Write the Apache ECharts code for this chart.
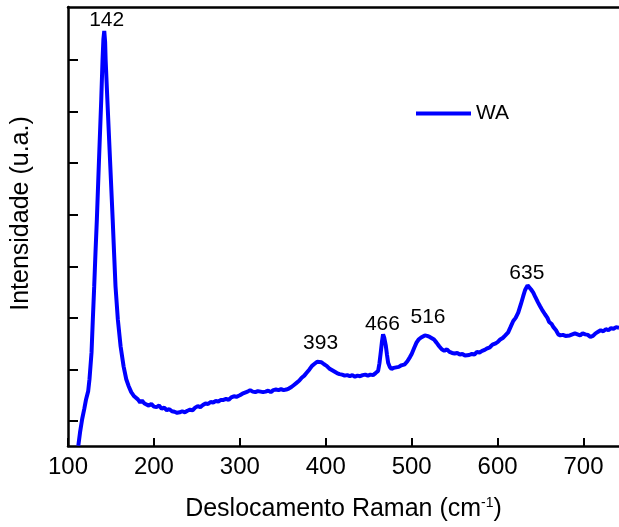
<!DOCTYPE html>
<html>
<head>
<meta charset="utf-8">
<script src="https://cdn.jsdelivr.net/npm/echarts@6/dist/echarts.min.js"></script>
<style>
html,body{margin:0;padding:0;background:#fff;}
#chart{width:619px;height:527px;}
</style>
</head>
<body>
<div id="chart"></div>
<script>
// Raman shift (cm-1)
var ramanShift = [
112,114,116.5,119,121,123.5,125,127.4,128.9,130.5,132,133.6,136.1,138.7,140.2,141.2,142.2,143.2,143.8,145.8,148.9,152,153.6,155.3,158,161.2,164.7,167.8,170.5,173.6,177,181.3,184,186,189,191,194,197,200,203,206,209,212,215,218,221,224,227,230,233,236,239,242,245,248,251,254,257,260,263,266,269,272,275,278,281,284,287,290,293,296,300,303,306,309,312,315,318,321,324,327,330,333,336,339,342,345,348,351,354,357,360,363,366,369,372,375,378,381,384,387,390,392.2,395,398,401,404,407,410,413,416,419,422,425,428,431,434,437,440,443,446,449,452,455,458,460.9,462.5,464,465.5,466.7,468,469.9,471.3,472.6,474.5,476.5,479,482,485,488,492,495,498,500,503,505.6,508,511,515.3,518,521,523.1,526,528.9,532,535,538,541,544,547,550,553,556,559,562,564,567,570,573,576,579,582,585,588,591,594,597,600,603,606,609,612.3,615,618.2,621,624,627,629.8,632,634.9,637,639,641.5,644,647,649.3,652,655.1,658,660,662.9,665,668,670.6,673,676,679,681,684,687,690,693,696,699,702,705,708,711,714,717,720,723,726,729,732,735,738,741.3
];
// Intensity (a.u.)
var intensityWA = [
52,78,104,124,142,158,181,233,297,361,427,491,607,723,800,840,856,835,800,723,607,491,427,361,297,245,206,181,168,156,148,142,136,140,134,133,130,133,128,127,130,124,126,121,123,119,118,116,117,119,117,120,122,121,126,129,127,131,134,133,137,136,139,138,141,141,143,141,146,148,147,150,153,155,157,160,157,156,158,157,156,157,159,156,160,161,160,162,160,161,163,166,170,174,178,184,188,194,200,207,211,215,218,214,210,207,202,199,196,193,191,190,188,189,187,189,186,188,187,189,190,188,190,189,193,197,212,233,255,268,262,246,228,213,205,201,203,204,205,208,210,216,224,230,242,252,258,262,266,265,263,264,258,252,245,239,236,239,234,232,231,232,229,230,227,225,228,230,229,234,233,236,238,241,243,248,250,253,258,261,266,272,282,294,300,310,326,342,354,363,360,355,349,340,330,323,315,307,300,292,288,282,276,268,266,267,265,268,266,268,270,268,266,270,268,267,263,265,270,273,276,274,278,276,280,279,282,281
];
// Peak annotations
var peakLabels = ['142','393','466','516','635'];
var peakLabelX = [145,394,466,519,634];
var peakLabelY = [876,251,287,302,387];
// Axis ticks
var xTicks = [100,200,300,400,500,600,700];
var yTicks = [100,200,300,400,500,600,700,800];
var seriesName = 'WA';

var FONT = 'Liberation Sans, Arial, sans-serif';
var lineData = ramanShift.map(function (x, i) { return [x, intensityWA[i]]; });
var labelData = peakLabels.map(function (t, i) { return { name: t, value: [peakLabelX[i], peakLabelY[i]] }; });

var chart = echarts.init(document.getElementById('chart'), null, { renderer: 'canvas' });
chart.setOption({
  animation: false,
  backgroundColor: '#ffffff',
  grid: { left: 68, right: 0, top: 7, bottom: 80, containLabel: false },
  legend: {
    data: [seriesName],
    left: 416, top: 103, padding: 0,
    icon: 'rect', itemWidth: 55, itemHeight: 4,
    textStyle: { fontFamily: FONT, fontSize: 21, color: '#000' }
  },
  xAxis: [{
    type: 'value', min: 100, max: 741.3,
    name: '{a|Deslocamento Raman (cm}{s|-1}{a|)}',
    nameLocation: 'middle', nameGap: 50,
    nameTextStyle: {
      rich: {
        a: { fontFamily: FONT, fontSize: 25, color: '#000' },
        s: { fontFamily: FONT, fontSize: 14, color: '#000', padding: [0, 0, 13, 0] }
      }
    },
    axisLine: { show: true, onZero: false, lineStyle: { color: '#000', width: 2.5 } },
    axisTick: { show: true, inside: true, length: 8, customValues: xTicks, lineStyle: { color: '#000', width: 2 } },
    axisLabel: { customValues: xTicks, fontFamily: FONT, fontSize: 24, color: '#000', margin: 9 },
    splitLine: { show: false }
  }, {
    type: 'value', position: 'top', min: 100, max: 741.3,
    axisLine: { show: true, onZero: false, lineStyle: { color: '#000', width: 2.5 } },
    axisTick: { show: false }, axisLabel: { show: false }, splitLine: { show: false }
  }],
  yAxis: {
    type: 'value', min: 51.65, max: 902.5,
    name: 'Intensidade (u.a.)',
    nameLocation: 'middle', nameGap: 34,
    nameTextStyle: { fontFamily: FONT, fontSize: 25, color: '#000', padding: [0, 0, 0, 26] },
    axisLine: { show: true, onZero: false, lineStyle: { color: '#000', width: 2.5 } },
    axisTick: { show: true, inside: true, length: 10, customValues: yTicks, lineStyle: { color: '#000', width: 2 } },
    axisLabel: { show: false },
    splitLine: { show: false }
  },
  series: [{
    name: seriesName, type: 'line', data: lineData,
    showSymbol: false, symbol: 'none', smooth: false,
    lineStyle: { color: '#0000ff', width: 4 },
    itemStyle: { color: '#0000ff' },
    z: 3
  }, {
    type: 'scatter', data: labelData, symbolSize: 0,
    silent: true,
    itemStyle: { opacity: 1 },
    label: {
      show: true, position: [0, 0], align: 'center', verticalAlign: 'middle',
      formatter: '{b}', opacity: 1,
      fontFamily: FONT, fontSize: 21, color: '#000', textBorderWidth: 0
    },
    z: 4
  }]
});
</script>
</body>
</html>
